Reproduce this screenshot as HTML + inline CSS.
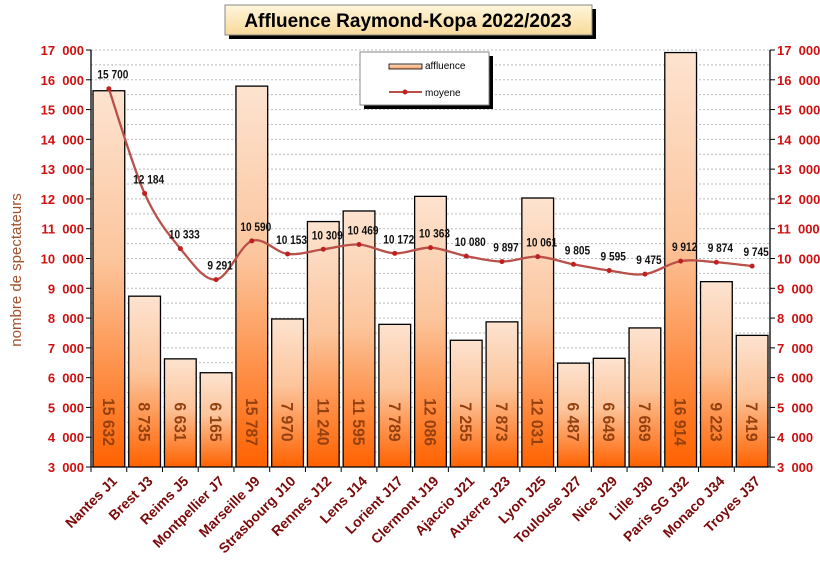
<!DOCTYPE html><html><head><meta charset="utf-8"><style>
body{margin:0;background:#fff;width:820px;height:559px;overflow:hidden;font-family:"Liberation Sans",sans-serif}
</style></head><body>
<svg id="s" width="820" height="559" xmlns="http://www.w3.org/2000/svg" font-family="Liberation Sans, sans-serif">
<defs>
<linearGradient id="bg" x1="0" y1="0" x2="0" y2="1"><stop offset="0" stop-color="#fde3d0"/><stop offset="0.45" stop-color="#fcc59c"/><stop offset="1" stop-color="#ff6200"/></linearGradient>
<linearGradient id="tg" x1="0" y1="0" x2="0" y2="1"><stop offset="0" stop-color="#fff7dc"/><stop offset="1" stop-color="#f8d99a"/></linearGradient>
<linearGradient id="lg" x1="0" y1="0" x2="0" y2="1"><stop offset="0" stop-color="#fde0c8"/><stop offset="1" stop-color="#f9a060"/></linearGradient>
</defs>
<g id="g"></g>
</svg>
<script>
var g=document.getElementById('g'),h='';
function Y(v){return 467-(v-3000)*0.029786;}
var L=91,R=770,W=(R-L)/19;
for(var v=3000;v<=17000;v+=500){var y=Y(v);if(v>3000)h+='<line x1="'+L+'" x2="'+R+'" y1="'+y+'" y2="'+y+'" stroke="#bbb" stroke-dasharray="2,2" stroke-width="1"/>';}
for(var v=3000;v<=17000;v+=1000){var y=Y(v),t=(v/1000|0)+'  000';
h+='<text x="84" y="'+(y+5)+'" text-anchor="end" font-size="13" font-weight="bold" fill="#d01010" xml:space="preserve">'+t+'</text>';
h+='<text x="777" y="'+(y+5)+'" font-size="13" font-weight="bold" fill="#d01010" xml:space="preserve">'+t+'</text>';
h+='<line x1="'+(L-5)+'" x2="'+L+'" y1="'+y+'" y2="'+y+'" stroke="#000"/><line x1="'+R+'" x2="'+(R+5)+'" y1="'+y+'" y2="'+y+'" stroke="#000"/>';}
var n=["Nantes J1","Brest J3","Reims J5","Montpellier J7","Marseille J9","Strasbourg J10","Rennes J12","Lens J14","Lorient J17","Clermont J19","Ajaccio J21","Auxerre J23","Lyon J25","Toulouse J27","Nice J29","Lille J30","Paris SG J32","Monaco J34","Troyes J37"];
var a=[15632,8735,6631,6165,15787,7970,11240,11595,7789,12086,7255,7873,12031,6487,6649,7669,16914,9223,7419];
var m=[15700,12184,10333,9291,10590,10153,10309,10469,10172,10363,10080,9897,10061,9805,9595,9475,9912,9874,9745];
function f(x){return String(x).replace(/\B(?=(\d{3})+(?!\d))/g,' ');}
for(var i=0;i<19;i++){var x=L+i*W,c=x+W/2,y=Y(a[i]);
h+='<rect x="'+(x+2)+'" y="'+y+'" width="'+(W-4)+'" height="'+(467-y)+'" fill="url(#bg)" stroke="#000" stroke-width="1.3"/>';
h+='<text transform="translate('+(c-6)+',422) rotate(90) scale(0.92,1)" text-anchor="middle" font-size="17" font-weight="bold" fill="#94400f">'+f(a[i])+'</text>';
h+='<line x1="'+x+'" x2="'+x+'" y1="467" y2="472" stroke="#000"/>';
h+='<text transform="translate('+(c+9)+',482) rotate(-45)" text-anchor="end" font-size="14" font-weight="bold" fill="#7a0a0a">'+n[i]+'</text>';}
h+='<line x1="'+L+'" x2="'+L+'" y1="50" y2="467" stroke="#000" stroke-width="1.3"/><line x1="'+R+'" x2="'+R+'" y1="50" y2="467" stroke="#000" stroke-width="1.3"/><line x1="'+L+'" x2="'+R+'" y1="467" y2="467" stroke="#000"/>';
var P=m.map(function(v,i){return [L+i*W+W/2,Y(v)];});
var d='M'+P[0];
for(var i=0;i<18;i++){var p0=P[Math.max(i-1,0)],p1=P[i],p2=P[i+1],p3=P[Math.min(i+2,18)];
d+=' C'+(p1[0]+(p2[0]-p0[0])/6)+','+(p1[1]+(p2[1]-p0[1])/6)+' '+(p2[0]-(p3[0]-p1[0])/6)+','+(p2[1]-(p3[1]-p1[1])/6)+' '+p2;}
h+='<path d="'+d+'" fill="none" stroke="#b9504a" stroke-width="2.3"/>';
P.forEach(function(p,i){var lx=p[0]+4;h+='<circle cx="'+p[0]+'" cy="'+p[1]+'" r="2.5" fill="#c02020"/><text x="'+lx+'" y="'+(p[1]-10)+'" text-anchor="middle" font-size="11.5" font-weight="bold" fill="#111" transform="translate('+(lx*0.12)+',0) scale(0.88,1)">'+f(m[i])+'</text>';});
h+='<rect x="229" y="9" width="367" height="30" fill="#000"/><rect x="225" y="5" width="367" height="30" fill="url(#tg)" stroke="#888"/><text x="408" y="27" text-anchor="middle" font-size="19" font-weight="bold" fill="#000">Affluence Raymond-Kopa 2022/2023</text>';
h+='<rect x="364" y="56" width="129" height="53" fill="#000"/><rect x="360" y="52" width="129" height="53" fill="#fff" stroke="#888"/>';
h+='<rect x="389" y="64" width="33" height="5" fill="url(#lg)" stroke="#000" stroke-width="0.8"/><text x="425" y="69" font-size="10" fill="#000">affluence</text>';
h+='<line x1="389" x2="422" y1="92" y2="92" stroke="#b9504a" stroke-width="2"/><circle cx="405" cy="92" r="2.5" fill="#c02020"/><text x="425" y="96" font-size="10" fill="#000">moyene</text>';
h+='<text transform="translate(21,270) rotate(-90)" text-anchor="middle" font-size="15" fill="#a0522d">nombre de spectateurs</text>';
g.innerHTML=h;
</script>
</body></html>
